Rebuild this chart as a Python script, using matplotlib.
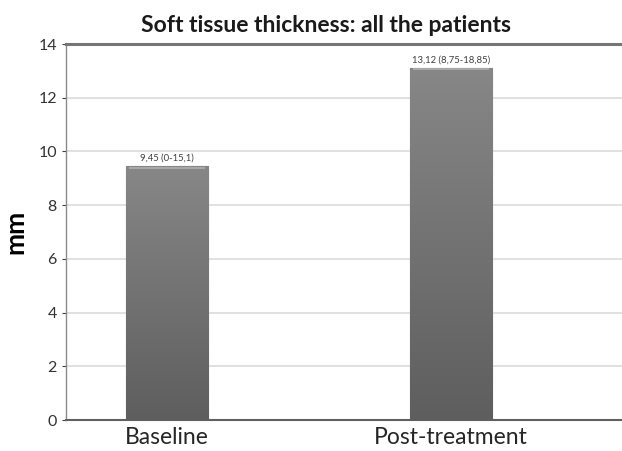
import numpy as np
import matplotlib
matplotlib.use("Agg")
import matplotlib.pyplot as plt
from matplotlib.colors import LinearSegmentedColormap

plt.rcParams['font.family'] = ['Lato', 'DejaVu Sans']

categories = ['Baseline', 'Post-treatment']
values = [9.45, 13.12]
labels = ['9,45 (0-15,1)', '13,12 (8,75-18,85)']
yticks = [0, 2, 4, 6, 8, 10, 12, 14]

fig = plt.figure(figsize=(6.22, 4.51), dpi=100)
ax = fig.add_axes([0.106, 0.0687, 0.894, 0.8337])

x = np.arange(len(categories))
width = 0.289
bars = ax.bar(x, values, width=width, color='#777777', edgecolor='#6a6a6a',
              linewidth=0.8, zorder=3)

# vertical gradient inside each bar
cmap = LinearSegmentedColormap.from_list('g', ['#5e5e5e', '#878787'])
grad = np.linspace(0, 1, 256).reshape(-1, 1)
for b in bars:
    x0, y0 = b.get_x(), b.get_y()
    w, h = b.get_width(), b.get_height()
    im = ax.imshow(grad, extent=[x0, x0 + w, y0, y0 + h], origin='lower',
                   cmap=cmap, aspect='auto', zorder=3.5)
    im.set_clip_path(b)
    # light sheen on the top edge
    ax.plot([x0 + 0.01, x0 + w - 0.01], [y0 + h - 0.05, y0 + h - 0.05],
            color='#b0b0b0', lw=1.2, zorder=4, solid_capstyle='butt')

for xi, v, lab in zip(x, values, labels):
    ax.text(xi, v + 0.12, lab, ha='center', va='bottom', fontsize=6.8,
            color='#404040', zorder=5)

ax.set_xlim(-0.356, 1.602)
ax.set_ylim(0, 14)
ax.set_yticks(yticks)
ax.set_xticks(x)
ax.set_xticklabels(categories, fontsize=16.5, color='#262626')
ax.tick_params(axis='y', labelsize=11.5, colors='#404040', length=3, width=0.8)
ax.tick_params(axis='x', length=0, pad=5)
for t in ax.get_yticklabels():
    t.set_color('#333333')

ax.grid(axis='y', color='#dcdcdc', lw=1.2, zorder=0)
ax.set_axisbelow(True)

ax.spines['right'].set_visible(False)
ax.spines['top'].set_color('#757575')
ax.spines['top'].set_linewidth(2.2)
ax.spines['bottom'].set_color('#606060')
ax.spines['bottom'].set_linewidth(1.5)
ax.spines['left'].set_color('#8a8a8a')
ax.spines['left'].set_linewidth(1.0)

ax.set_ylabel('mm', fontsize=19, fontweight='bold', labelpad=8)
fig.text(0.524, 0.929, 'Soft tissue thickness: all the patients',
         ha='center', va='baseline', fontsize=16.5, fontweight='bold',
         color='#1a1a1a')

fig.savefig('out.png', dpi=100)
